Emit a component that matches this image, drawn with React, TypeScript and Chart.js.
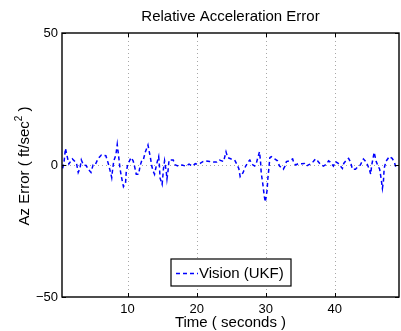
import { useEffect, useRef } from "react";
import { Chart, registerables } from "chart.js";

Chart.register(...registerables);

// Relative acceleration error (Az) of the vision UKF estimate over time
const timeSec = [
  0.6, 0.8, 1.0, 1.2, 1.5, 2.0, 2.3, 2.6, 2.85, 3.1,
  3.3, 3.6, 4.0, 4.3, 4.7, 5.0, 5.3, 5.7, 6.2, 6.85,
  7.2, 7.5, 7.7, 7.85, 8.0, 8.3, 8.5, 8.7, 8.9, 9.1,
  9.4, 9.7, 9.8, 10.0,
  10.5, 10.8, 11.0, 11.25, 11.6, 11.8, 12.1, 12.3, 12.55, 12.95,
  13.3, 13.5, 13.7, 13.9, 14.2, 14.5, 14.6, 14.7, 15.0, 15.2,
  15.35, 15.6, 15.7, 15.85, 16.0, 16.6, 16.9, 17.4, 17.9, 18.4,
  18.9, 19.4, 19.8,
  20.1, 20.5, 20.9, 21.3, 21.9, 22.4, 22.9, 23.3, 23.9, 24.25,
  24.5, 25.0, 25.5, 25.75, 26.1, 26.3, 26.7, 27.1, 27.5, 27.7,
  28.0, 28.4, 28.6, 28.9, 29.1, 29.25, 29.35, 29.6, 29.8, 29.95,
  30.2, 30.3, 30.4, 30.6, 30.8, 31.3, 31.7, 32.0, 32.55, 32.8,
  33.0, 33.5, 33.9, 34.1, 34.35, 34.7, 35.2, 35.6, 35.9, 36.4,
  36.9, 37.2, 37.5, 37.9, 38.35, 38.8, 39.1, 39.3, 39.8,
  40.1, 40.5, 41.1, 41.3, 41.7, 42.0, 42.3, 42.55, 43.0, 43.3,
  43.7, 44.15, 44.5, 44.75, 45.0, 45.2, 45.35, 45.5, 45.7, 46.0,
  46.2, 46.5, 46.7, 46.9, 47.05, 47.15, 47.4, 47.9, 48.3, 48.6,
  48.8, 49.2,
];

const azError = [
  -1.3, 1.3, 6.3, 3.8, 0.4, 2.3, 1.5, 0.6, -2.8, -1.3,
  1.9, 0, -0.2, -1.6, -2.8, 0, 0, 2.3, 3.8, 3.5,
  0.6, -2.5, -4.8, -1.3, 1.6, 3.8, 7.8, 3.3, -1.3, -4.4,
  -8.2, -6.9, -2.8, 0,
  2.8, 1.6, -0.4, -3.5, -3.5, -0.4, 2.1, 2.2, 4.8, 7.6,
  2.8, -0.4, -2.3, -3.5, 0.3, 3.2, 0, -5, -7.3, -1.3,
  1.6, -2.5, -5.3, -2.3, 1.9, 1.9, 0, -0.4, 0, -0.4,
  0.3, -0.4, 0.5,
  0.3, 0.6, 1.3, 1.6, 1.3, 1.1, 1.1, 1.9, 1.3, 5,
  2.8, 2.3, 1.9, 0.6, -1.3, -4.4, -3, -0.4, 1.3, 1.9,
  0.3, -0.4, 0.3, 3.2, 5, 1.3, -3, -7.6, -12, -14,
  -9.5, -5.3, -2.8, 2.8, 3.2, 2.3, 1.6, -0.4, -1.6, -0.4,
  1.3, 1.6, 2.3, 0.6, 0, 0.5, 0.5, 0.6, -0.4, 0.3,
  1.3, 2.3, 1.6, 0.3, -0.4, 0.3, 1.6, 1.2, -0.4,
  1.3, 0.6, -1.3, 0.6, 1.9, 2.5, 1.1, -1.6, -1.6, -0.8,
  0, 2.3, 1.3, 0, -1.6, -3.5, 0, 1.9, 4.8, 1.3,
  0, -1.6, -5, -8.8, -6, -1.3, 1.3, 3.2, 2.5, 1.3,
  -0.4, -1.3,
];

const xTicks = [10, 20, 30, 40];
const yTicks = [-50, 0, 50];

const seriesLabel = "Vision (UKF)";
const titleText = "Relative Acceleration Error";
const xTitle = "Time ( seconds )";

const FONT = '"Liberation Sans", Arial, Helvetica, sans-serif';
const LINE_BLUE = "#0000ff";
const DASH = [4, 3];

// Dotted grid, boxed axes with inward ticks, title, y label with superscript and legend
const matlabFrame = {
  id: "matlabFrame",
  beforeDatasetsDraw(chart: any) {
    const { ctx, chartArea: a, scales } = chart;
    const xs = scales.x;
    const ys = scales.y;
    ctx.save();
    ctx.strokeStyle = "#a8a8a8";
    ctx.lineWidth = 1;
    ctx.setLineDash([1, 3]);
    for (const t of xTicks) {
      const px = Math.round(xs.getPixelForValue(t)) + 0.5;
      ctx.beginPath();
      ctx.moveTo(px, a.top);
      ctx.lineTo(px, a.bottom);
      ctx.stroke();
    }
    for (const t of yTicks) {
      const py = Math.round(ys.getPixelForValue(t)) + 0.5;
      if (py <= a.top + 1 || py >= a.bottom - 1) continue;
      ctx.beginPath();
      ctx.moveTo(a.left, py);
      ctx.lineTo(a.right, py);
      ctx.stroke();
    }
    ctx.restore();
  },
  afterDatasetsDraw(chart: any) {
    const { ctx, chartArea: a, scales } = chart;
    const xs = scales.x;
    const ys = scales.y;
    ctx.save();
    ctx.setLineDash([]);
    ctx.strokeStyle = "#000";
    ctx.lineWidth = 1.4;
    ctx.strokeRect(a.left, a.top, a.right - a.left, a.bottom - a.top);

    // inward tick marks
    const tl = 4;
    ctx.lineWidth = 1;
    for (const t of xTicks) {
      const px = Math.round(xs.getPixelForValue(t)) + 0.5;
      ctx.beginPath();
      ctx.moveTo(px, a.top);
      ctx.lineTo(px, a.top + tl);
      ctx.moveTo(px, a.bottom);
      ctx.lineTo(px, a.bottom - tl);
      ctx.stroke();
    }
    for (const t of yTicks) {
      const py = Math.round(ys.getPixelForValue(t)) + 0.5;
      ctx.beginPath();
      ctx.moveTo(a.left, py);
      ctx.lineTo(a.left + tl, py);
      ctx.moveTo(a.right, py);
      ctx.lineTo(a.right - tl, py);
      ctx.stroke();
    }

    // legend box
    const bx = 171;
    const by = 259;
    const bw = 120;
    const bh = 27;
    ctx.fillStyle = "#fff";
    ctx.fillRect(bx, by, bw, bh);
    ctx.strokeStyle = "#000";
    ctx.lineWidth = 1.2;
    ctx.strokeRect(bx, by, bw, bh);
    const my = by + bh / 2 + 1;
    ctx.strokeStyle = LINE_BLUE;
    ctx.lineWidth = 1.5;
    ctx.setLineDash(DASH);
    ctx.beginPath();
    ctx.moveTo(bx + 5, my);
    ctx.lineTo(bx + 27, my);
    ctx.stroke();
    ctx.setLineDash([]);
    ctx.fillStyle = "#000";
    ctx.font = `15px ${FONT}`;
    ctx.textAlign = "left";
    ctx.textBaseline = "middle";
    ctx.fillText(seriesLabel, bx + 28, my);
    ctx.restore();
  },
  afterDraw(chart: any) {
    const { ctx, chartArea: a } = chart;
    ctx.save();
    ctx.fillStyle = "#000";
    ctx.textBaseline = "middle";
    ctx.textAlign = "center";
    ctx.font = `15px ${FONT}`;
    ctx.fillText(titleText, (a.left + a.right) / 2, 17);

    // rotated y-axis label with superscript 2
    const main1 = "Az Error ( ft/sec";
    const sup = "2";
    const main2 = " )";
    ctx.font = `15px ${FONT}`;
    const w1 = ctx.measureText(main1).width;
    const w3 = ctx.measureText(main2).width;
    ctx.font = `10px ${FONT}`;
    const w2 = ctx.measureText(sup).width;
    const total = w1 + w2 + w3;
    ctx.translate(25, (a.top + a.bottom) / 2 + 1);
    ctx.rotate(-Math.PI / 2);
    ctx.textAlign = "left";
    let cx = -total / 2;
    ctx.font = `15px ${FONT}`;
    ctx.fillText(main1, cx, 0);
    cx += w1;
    ctx.font = `10px ${FONT}`;
    ctx.fillText(sup, cx, -6);
    cx += w2;
    ctx.font = `15px ${FONT}`;
    ctx.fillText(main2, cx, 0);
    ctx.restore();
  },
};

export default function App() {
  const canvasRef = useRef<HTMLCanvasElement | null>(null);

  useEffect(() => {
    const canvas = canvasRef.current;
    if (!canvas) return;
    const points = timeSec.map((t, i) => ({ x: t, y: azError[i] }));
    const chart = new Chart(canvas, {
      type: "scatter",
      data: {
        datasets: [
          {
            label: seriesLabel,
            data: points,
            showLine: true,
            borderColor: LINE_BLUE,
            borderWidth: 1.5,
            borderDash: DASH,
            pointRadius: 0,
            pointHoverRadius: 0,
            tension: 0,
            fill: false,
          },
        ],
      },
      options: {
        responsive: false,
        animation: false,
        devicePixelRatio: 1,
        layout: { padding: { top: 33, right: 2, left: 0, bottom: 0 } },
        plugins: {
          legend: { display: false },
          title: { display: false },
          tooltip: { enabled: false },
        },
        scales: {
          x: {
            type: "linear",
            min: 0.5,
            max: 49.3,
            afterBuildTicks: (s: any) => {
              s.ticks = xTicks.map((v) => ({ value: v }));
            },
            afterFit: (s: any) => {
              s.height = 34;
            },
            grid: { display: false, drawTicks: false },
            border: { display: false },
            ticks: {
              padding: 5,
              color: "#000",
              font: { family: FONT, size: 13 },
              maxRotation: 0,
              autoSkip: false,
            },
            title: {
              display: true,
              text: xTitle,
              color: "#000",
              font: { family: FONT, size: 15 },
              padding: { top: 0, bottom: -1 },
            },
          },
          y: {
            type: "linear",
            min: -50,
            max: 50,
            afterBuildTicks: (s: any) => {
              s.ticks = yTicks.map((v) => ({ value: v }));
            },
            afterFit: (s: any) => {
              s.width = 62;
            },
            grid: { display: false, drawTicks: false },
            border: { display: false },
            ticks: {
              padding: 4,
              color: "#000",
              font: { family: FONT, size: 13 },
              autoSkip: false,
              callback: (v: any) => (Number(v) < 0 ? "\u2212" + Math.abs(Number(v)) : String(v)),
            },
          },
        },
      },
      plugins: [matlabFrame],
    });
    return () => chart.destroy();
  }, []);

  return (
    <div style={{ position: "fixed", left: 0, top: 0, width: 401, height: 331, background: "#fff" }}>
      <canvas ref={canvasRef} width={401} height={331} style={{ display: "block", width: 401, height: 331 }} />
    </div>
  );
}
